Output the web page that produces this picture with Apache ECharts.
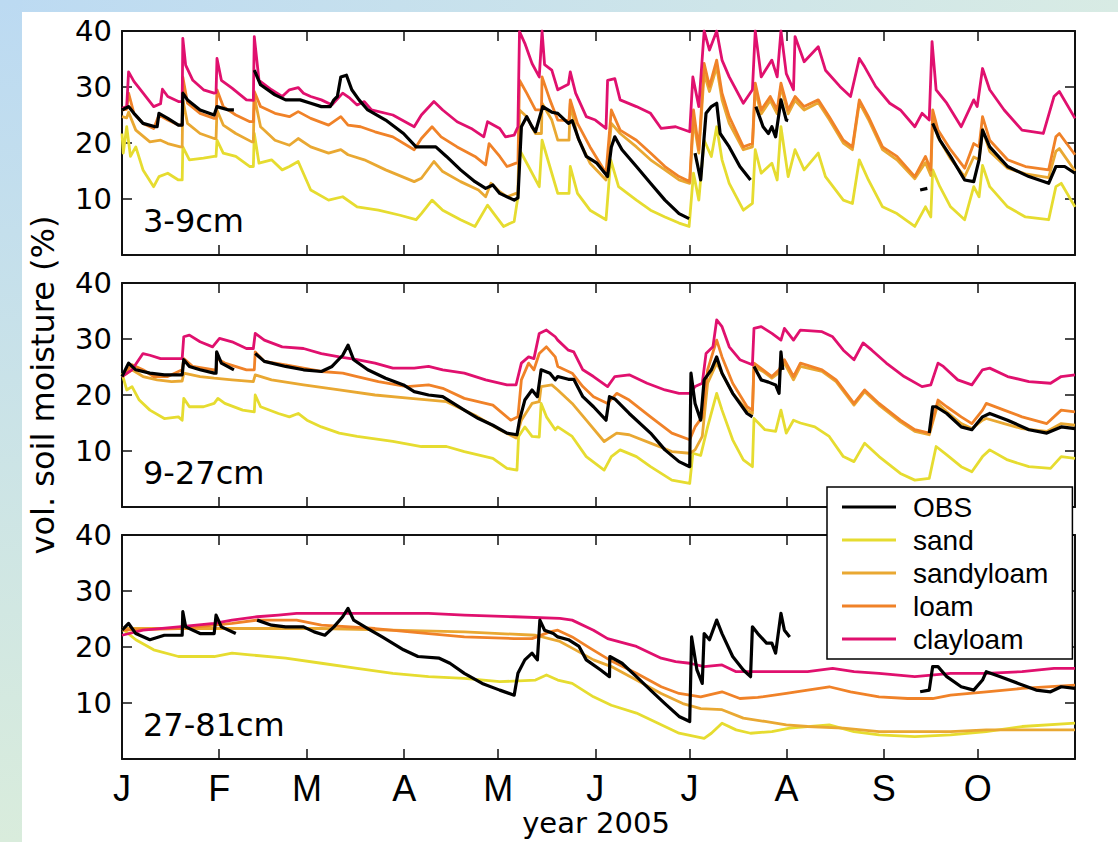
<!DOCTYPE html>
<html>
<head>
<meta charset="utf-8">
<script src="https://cdn.jsdelivr.net/npm/echarts/dist/echarts.min.js"></script>
<style>
html,body{margin:0;padding:0;background:#fff;}
#chart{width:1118px;height:842px;}
</style>
</head>
<body>
<div id="chart"></div>
<script>
// ---------- axis / label data ----------
const monthStarts = [0, 31, 59, 90, 120, 151, 181, 212, 243, 273];
const monthLabels = ['J', 'F', 'M', 'A', 'M', 'J', 'J', 'A', 'S', 'O'];
const dayMax = 304;
const yMax = 40;
const yStep = 10;
const depthLabels = ['3-9cm', '9-27cm', '27-81cm'];
const seriesNames = ['OBS', 'sand', 'sandyloam', 'loam', 'clayloam'];
const xTitle = 'year 2005';
const yTitle = 'vol. soil moisture (%)';

// ---------- panel 1: 3-9cm  ([day of year, vol %]) ----------
const obs1 = [[0,25.9],[2.1,26.5],[3.8,25.3],[6.7,23.5],[10.6,22.9],[11.2,22.9],[11.8,25.3],[14.6,24.4],[18,23.2],[19.2,23.2],[19.4,28.9],[20.9,27.7],[24.9,25.9],[29.4,25],[30.3,26.5],[34,25.9],[35.7,25.9],[35.8,null],[42.1,null],[42.2,33],[44.2,30.4],[48.8,28.6],[52.2,27.7],[56.8,27.7],[60.2,27.1],[63.6,26.5],[66.4,26.5],[67.6,27.7],[68.7,28.3],[69.8,31.8],[71.6,32.1],[73.3,29.5],[75.6,27.7],[78.4,25.9],[84.1,24.1],[89.8,21.7],[93.8,19.3],[97.8,19.3],[100.1,19.3],[103.5,17.6],[108,15.2],[112.6,13.1],[116,11.9],[118.3,12.5],[120.5,11],[125.1,9.8],[126.3,10.2],[127.4,22.9],[129.1,24.7],[130.8,22.9],[131.9,22],[134.2,26.5],[137.1,25.5],[139,25.3],[142.4,23.5],[143.6,24],[145.8,20.5],[148.1,17.6],[151.5,16.4],[154.9,14],[156.1,19.3],[157.2,21.1],[159.5,18.8],[164.1,15.8],[168.6,12.8],[173.2,9.8],[177.7,7.4],[180.9,6.5],[181,null],[182.7,null],[182.8,18.2],[184.6,13.4],[186.3,25.3],[188,26.5],[189.7,27.1],[190.8,21.7],[193.7,19.3],[197.1,15.8],[200.5,13.4],[200.6,null],[202.1,null],[202.2,26.5],[204.5,22.9],[206.2,21.7],[207.3,22.9],[208.5,21.1],[210.2,27.7],[211.9,24.1],[212.5,24],[212.6,null],[254.5,null],[254.6,11.6],[256.9,11.9],[257,null],[258.5,null],[258.6,23.5],[260.9,20.5],[264.3,17.6],[268.8,13.4],[271.7,13.1],[273.4,17],[274.5,22.3],[276.8,19.3],[282.5,15.8],[289.3,14],[295.6,12.8],[297.9,15.8],[300.7,15.8],[304,14.6]];
const sand1 = [[0,21.7],[0.4,18.2],[1.5,22.9],[2.7,17.6],[4.4,19.3],[6.7,15.2],[10.1,12.2],[11.8,14],[14.6,14.6],[18,13.4],[19.2,13.4],[19.4,19.3],[21.5,17],[26,17.3],[29.4,17.6],[30,17.6],[30.3,20.5],[32.3,18.2],[36.3,17.6],[40.8,15.8],[41.9,15.8],[42.2,21.7],[43.7,16.4],[47.7,17],[51.1,15.2],[53.4,15.8],[56.2,16.7],[60.2,11.6],[65.9,9.8],[70.4,10.4],[75,8.6],[81.8,8],[88.7,7.1],[93.8,6.3],[95.5,7.4],[98.9,9.8],[102.3,8],[108,6.3],[112.6,5.1],[116.6,8.9],[119.4,6.8],[121.7,5.1],[125.1,6],[126.3,10.4],[126.8,18.8],[129.7,15.8],[133.1,12.2],[134,20.5],[137.1,14.6],[139,11],[142.6,11],[143,15.8],[145.3,11],[149.3,8],[154.4,6.3],[155.9,17],[158.4,12.2],[164.1,9.8],[168.6,8],[173.2,6.8],[177.7,5.7],[180.9,5.1],[182.3,14.6],[184,9.8],[185.7,20.5],[188,17.6],[189.7,22.9],[191.4,17],[193.7,12.8],[198.2,8],[201.1,9.2],[202,18.8],[203.9,14.6],[207.3,16.4],[209,13.4],[210.2,22.9],[212.5,14],[214.7,18.8],[217.6,15.2],[222.1,18.2],[224.4,14],[230.1,9.8],[233,9.2],[235.2,17],[238.1,13.4],[242.6,8.6],[247.2,7.4],[252.9,5.1],[256.3,8.6],[258,6.8],[258.6,15.2],[260.9,12.2],[264.3,8.6],[268.8,6.3],[271.7,12.2],[273.4,10.4],[274.5,16],[276.8,12.2],[282.5,8.6],[288.2,6.8],[295.6,6.3],[297.9,12.2],[299.6,12.8],[304,8.6]];
const sandy1 = [[0,24.7],[1.5,24.5],[2.1,25.5],[4.4,22.3],[8.9,20.2],[12.3,20.5],[14.6,19.9],[18.6,19.3],[19.2,19.3],[19.4,27.7],[20.9,23.5],[24.9,21.7],[29.4,20.8],[30,20.8],[30.3,25.9],[32.3,23.2],[36.3,21.7],[41.4,20.2],[41.9,20.2],[42.2,28.3],[44.2,22.9],[48.8,20.5],[53.4,19.6],[56.2,20.8],[60.2,19.3],[65.9,18.2],[69.8,18.8],[72.1,17.9],[77.3,17],[84.1,15.2],[93.2,13.1],[95.5,13.7],[99.5,16.7],[102.3,14.9],[108,13.1],[113.7,11.6],[116,10.4],[117.7,12.8],[120.5,11.3],[122.8,10.4],[125.7,11],[126.3,11],[126.8,25.9],[129.1,24.7],[131.9,21.7],[133.8,21.7],[134,27.1],[137.1,24.1],[139,20.5],[142.6,20.5],[143,27.1],[145.3,21.1],[149.3,16.4],[154.4,13.4],[156.1,23.5],[158.9,21.7],[164.1,19.3],[168.6,17],[173.2,15.2],[177.7,13.4],[181.1,12.8],[182.3,24.1],[184,18.2],[185.7,32.4],[187.4,29.2],[189.7,33.6],[191.4,27.7],[193.7,23.5],[198.2,18.8],[201.1,19.3],[202,29.5],[203.9,25.2],[206.8,27.6],[209,25.2],[210.2,30],[212.5,25.2],[214.7,27.6],[217.6,25.9],[222.1,27.2],[225.6,24.2],[230.1,20],[233,18.8],[235.2,27.2],[238.1,24.2],[242.6,18.8],[247.2,17],[252.9,13.6],[256.3,16.5],[258,14.2],[258.6,24.5],[260.3,21],[264.3,17.2],[268.8,14],[271.7,17.5],[273.4,17],[274.5,22.5],[276.8,18.5],[282.5,15.5],[288.2,14.5],[295.6,13.8],[297.9,18.5],[299,19],[304,15]];
const loam1 = [[0,25.9],[1.5,26],[2.1,28.9],[3.8,25.3],[6.7,23.5],[10.1,22.6],[11.8,25],[14.6,24.1],[18,23.2],[19.2,23.2],[19.4,31.8],[20.9,27.1],[24.9,25.3],[29.4,24.4],[30,24.4],[30.3,29.5],[32.3,26.5],[36.3,25],[40.8,23.8],[41.9,23.8],[42.2,29.2],[44.2,26.5],[48.8,25.3],[53.4,24.7],[56.2,25.6],[60.2,24.4],[65.9,23.2],[69.8,24.7],[72.1,23.2],[76.1,22.9],[80.7,22],[86.4,21.1],[93.2,18.8],[95.5,20.8],[98.9,22.9],[101.8,21.1],[106.9,19.3],[112.6,17.6],[116,16.1],[117.1,19.9],[120.5,17.6],[122.8,15.8],[125.7,16.4],[126.3,16.4],[126.8,31.2],[129.1,28.9],[131.9,25.9],[133.8,25.9],[134,31.8],[136.5,27.7],[139,24.1],[142.6,24],[143,27.7],[145.3,23.5],[149.3,19.3],[154.4,14.6],[156.1,25.9],[158.9,22.3],[164.1,20.5],[168.6,18.2],[173.2,15.8],[177.7,14],[181.1,13.1],[182.3,25.9],[184,18.8],[185.7,34.2],[187.4,30.1],[189.7,34.8],[191.4,28.9],[193.7,24.7],[198.2,19.3],[201.1,19.9],[202,30.7],[203.9,25.9],[206.8,28.3],[209,25.9],[210.2,30.7],[212.5,25.9],[214.7,28.3],[217.6,26.5],[222.1,27.7],[225.6,24.7],[230.1,20.5],[233,19.3],[235.2,27.7],[238.1,24.7],[242.6,19.3],[247.2,17.6],[252.9,14],[256.3,17.6],[258,15.2],[258.6,25.9],[260.3,22.3],[264.3,18.8],[268.8,15.5],[271.7,19.9],[273.4,19.3],[274.5,24.7],[276.8,20.5],[282.5,17],[288.2,15.8],[295.6,15.2],[297.9,21.1],[299,21.7],[304,17.9]];
const clay1 = [[0,26.2],[1.5,26.5],[2.1,32.7],[3.8,31],[5.5,29.8],[10.1,26.5],[12.3,27],[12.9,29.6],[14.6,28.3],[18,27.4],[19.2,27.4],[19.4,38.7],[20.3,33.9],[22.6,31.2],[26,29.5],[29.4,28.9],[30,29],[30.3,35.1],[31.7,31.2],[35.1,29.8],[39.7,27.7],[41.9,27.6],[42.2,39],[43.7,31.2],[47.7,29.5],[51.1,28.3],[53.4,29.5],[56.2,29.9],[57.9,28.9],[60.2,28.3],[63.6,27.7],[67,26.8],[70.4,28.9],[72.7,28],[75,26.8],[77.3,27.4],[79.6,25.9],[86.4,25],[93.2,22.9],[95.5,25],[99.5,27.4],[102.3,25.9],[106.9,23.8],[111.4,22.6],[115.4,21.1],[116.6,23.8],[120.5,22.6],[122.3,21.1],[125.1,21.4],[126.3,22.9],[126.8,39.9],[128.5,37.8],[130.8,34.2],[133.1,31.8],[134,40],[134.8,34],[137.1,33],[139,29.5],[142.4,30.5],[143,32.7],[144.7,28.9],[148.1,24.7],[151,24.1],[154.4,22.6],[154.9,31.2],[157.2,31.5],[158.9,27.7],[164.1,26.5],[168.6,25.3],[172,22.6],[176.6,22.9],[181.1,22],[182.1,31.8],[184,26.5],[185.7,40],[187.4,36.6],[189.7,40],[191.4,34.8],[193.7,31.8],[198.2,27.1],[201.1,29.5],[202,40],[203.9,31.8],[207.3,34.8],[209,31.8],[210.2,40],[211.9,32.4],[214.2,29.5],[214.7,39],[217.6,34.5],[222.1,37.2],[224.4,33],[229,30.1],[232.4,28.3],[235.2,35.1],[236.9,33.6],[240.4,30.1],[244.9,27.1],[248.3,25.9],[252.9,22.9],[255.2,25.3],[257.5,24.1],[258.4,38.1],[259.7,29.5],[263.1,27.1],[267.7,22.9],[271.7,27.7],[272.8,26.5],[274.5,33.3],[276.8,29.5],[281.4,25.9],[287.1,22.3],[293.9,21.7],[297.3,28.3],[299,29.2],[304,24.4]];

// ---------- panel 2: 9-27cm ----------
const obs2 = [[0,23.3],[2.1,25.7],[4.4,24.5],[8.9,23.9],[13.5,23.6],[19.2,23.6],[19.7,26.3],[21.5,25.1],[24.9,24.5],[29.4,23.9],[30,23.9],[30.2,27.7],[31.7,25.7],[35.7,24.5],[35.8,null],[42.4,null],[42.5,27.4],[45.4,26],[52.2,25.1],[57.9,24.5],[63.6,24.2],[67,25.1],[70.4,27.1],[72.1,28.9],[73.9,26.3],[78.4,24.5],[84.1,23],[89.8,21.8],[93.2,20.6],[97.8,20],[102.3,19.7],[109.2,17.3],[113.7,15.8],[118.3,14.6],[122.8,13.2],[126,12.9],[126.8,15.5],[128.5,19.1],[130.8,20.9],[132.5,19.7],[133.7,24.5],[136.5,23.9],[138.2,22.7],[139,23.3],[142.4,22.8],[144.1,22.8],[147,19.7],[150.4,17.9],[154.4,15.5],[155.5,19.7],[157.2,19.3],[161.8,16.7],[168.6,13.2],[173.2,10.2],[177.7,8.1],[181.1,7.2],[181.5,23.9],[182.8,18.5],[184.6,15.5],[185.7,22.7],[188,24.5],[189.7,26.8],[191.4,23.9],[194.8,20.3],[199.4,16.7],[201.1,16.1],[201.2,null],[201.5,null],[201.6,25.1],[203.9,22.7],[206.2,22.3],[208.5,21.8],[209.6,20.3],[210.2,27.7],[210.8,24.5],[210.9,null],[257.4,null],[257.5,13.2],[258.6,17.9],[259.7,17.9],[263.1,16.7],[267.7,14.3],[271.1,13.8],[274.5,16.1],[276.8,16.7],[282.5,15.5],[289.3,13.8],[295,13.2],[299.6,14.3],[304,14]];
const sand2 = [[0,23.9],[1.5,20.9],[3.2,21.5],[5.5,19.1],[8.9,17.3],[13.5,15.8],[18,16.1],[19.2,15.5],[19.7,19.4],[21.5,17.9],[26,17.9],[29.4,18.5],[30.6,19.4],[32.8,18.5],[38.5,17.3],[42.2,17],[42.5,20],[44.2,17.9],[49.9,16.7],[53.4,16.1],[56.2,16.7],[59,15.5],[63.6,14.3],[69.3,13.2],[75,12.6],[86.4,11.7],[95.5,10.8],[103.5,10.8],[109.2,9.9],[118.3,8.7],[122.8,6.9],[126,6.6],[126.5,12.6],[128.5,14.3],[130.8,12.6],[133.1,12.5],[133.7,18.5],[135.4,16.1],[138.2,13.8],[139,14.3],[143.6,12.6],[148.1,9],[153.8,6.6],[156.1,9],[158.9,10.2],[164.1,9],[168.6,7.2],[175.4,4.8],[181.1,4.2],[182.1,9.6],[184.6,9.2],[186.8,14.3],[189.7,20.3],[191.4,17.3],[194.8,12],[198.2,8.4],[201.1,7.2],[201.6,15.8],[205.1,13.8],[208.5,13.5],[210.2,17.3],[211.9,13.2],[214.2,15.5],[216.4,15],[221,14.3],[225.6,12.6],[230.1,9],[233.5,8.1],[236.9,11.4],[241.5,9],[248.3,6],[252.9,4.8],[257.5,5.1],[259.7,10.8],[263.1,9.3],[267.7,7.2],[271.1,6.3],[274.5,9],[276.8,10.2],[282.5,8.4],[289.3,7.2],[296.2,6.9],[299.6,9],[304,8.7]];
const sandy2 = [[0,23.3],[3.2,24.5],[6.7,23.3],[11.2,22.7],[15.8,22.4],[19.2,22.5],[19.7,23.9],[24.9,23.3],[29.4,23],[35.1,22.7],[41.9,22.4],[42.5,23.6],[47.7,22.7],[57.9,21.8],[69.3,20.9],[80.7,20],[92.1,19.4],[103.5,18.8],[112.6,16.4],[120.5,13.8],[125.7,12.3],[127.4,15.5],[130.8,18.5],[133.1,18.8],[133.7,21.5],[137.1,21.8],[139,20.9],[143.6,18.5],[148.1,15.5],[153.8,11.7],[157.8,13.2],[161.8,12.9],[168.6,11.4],[175.4,9.9],[181.1,9.6],[182.8,10.2],[185.1,12.6],[186.8,22.1],[189.7,25.7],[191.4,23.9],[194.8,20.3],[199.4,17.3],[201.1,16.7],[201.6,25.1],[204.5,24.2],[207.3,23],[209.6,24],[211.3,25.7],[214.2,22.7],[216.4,25.1],[223.3,24.2],[227.8,22.4],[233.5,18.2],[236.9,20.6],[241.5,18.2],[248.3,15.2],[252.9,13.5],[257.5,12.9],[260.3,18.5],[263.1,17],[267.7,14.9],[271.1,14],[274.5,15.5],[275.7,15.8],[281.4,14.9],[287.1,14],[295,13.5],[299.6,14.9],[304,14.6]];
const loam2 = [[0,23.3],[3.2,25.4],[6.7,24.5],[10.1,23.3],[14.6,23.3],[19.2,24.5],[19.7,26.5],[22.6,25.1],[29.4,24.5],[30,24.5],[30.3,26.5],[32.8,25.7],[39.7,24.5],[42.2,24.5],[42.5,27.7],[45.4,26],[52.2,25.4],[57.9,24.8],[63.6,24.2],[70.4,23.9],[75,23.3],[81.8,22.4],[90.9,21.5],[97.8,21.8],[102.3,21.2],[109.2,19.4],[118.3,18.2],[124,15.5],[126.3,16.1],[127.4,22.7],[129.7,25.7],[131.4,24.5],[133.1,27.4],[135.4,28.6],[138.2,26.8],[139,25.1],[143.6,23.9],[147,21.5],[150.4,19.7],[154.9,18.5],[157.8,20.3],[161.8,19.1],[168.6,16.1],[175.4,13.2],[181.1,12],[182.8,14.3],[185.1,16.1],[186.8,24.5],[189.7,29.8],[191.4,26.8],[194.8,22.1],[199.4,17.9],[201.1,17.3],[201.6,25.7],[204.5,24.5],[207.3,23.3],[209.6,24.5],[211.3,26.3],[214.2,23.3],[216.4,25.7],[223.3,24.5],[227.8,22.7],[233.5,18.5],[236.9,20.9],[241.5,18.5],[248.3,15.5],[252.9,13.8],[257.5,13.2],[260.3,19.1],[263.1,17.9],[267.7,16.1],[271.1,14.9],[274.5,17.3],[275.7,18.5],[281.4,17.3],[287.1,16.1],[295,14.9],[299.6,17.3],[304,17]];
const clay2 = [[0,23.3],[3.2,24.5],[6.7,27.4],[8.9,27.1],[12.3,26.5],[19.2,26.5],[19.7,30.4],[21.5,30.7],[24.9,29.5],[28.9,28.6],[31.1,30.1],[35.1,29.5],[39.7,28.3],[41.9,28.3],[42.5,31],[45.4,29.8],[51.1,28.6],[57.9,28.3],[63.6,27.4],[69.3,26.8],[75,26.3],[80.7,25.7],[86.4,24.8],[93.2,24.8],[97.8,25.1],[102.3,24.5],[109.2,23.9],[116,22.7],[122.8,21.8],[125.7,21.8],[127.4,25.7],[129.7,26.8],[131.4,26.5],[133.1,31],[135.4,31.6],[138.2,30.4],[139,29.8],[142.4,28],[144.1,27.7],[147,24.5],[150.4,23.3],[154.9,21.5],[157.2,23.3],[161.8,23.6],[167.5,22.1],[173.2,20.9],[177.7,20.3],[181.1,20.3],[182.8,21.5],[185.1,22.1],[186.3,27.4],[188.5,28.6],[189.7,33.4],[191.4,32.2],[193.7,28.6],[197.1,26.3],[201.1,25.4],[201.6,31.9],[203.9,32.2],[207.3,31],[210.2,29.8],[211.3,31.9],[214.2,29.8],[216.4,31.6],[223.3,31.3],[226.7,30.4],[230.1,28],[233.5,26.3],[236.4,29.3],[239.2,28],[243.8,25.7],[249.5,23.3],[255.2,21.5],[258,21.8],[260.3,25.7],[262,25.1],[266.6,22.7],[271.1,21.8],[274.5,24.5],[276.8,24.8],[282.5,23.3],[289.3,22.4],[296.2,22.1],[299.6,23.3],[304,23.6]];

// ---------- panel 3: 27-81cm ----------
const obs3 = [[0,23],[2.1,24.2],[4.4,22.4],[8.9,21.3],[13.5,22.1],[18,22.1],[19.2,22.1],[19.4,26.3],[20.3,23.6],[24.9,22.4],[29.4,22.4],[30,25.7],[31.7,23.6],[36.3,22.4],[36.4,null],[42.9,null],[43.1,24.8],[47.7,23.9],[52.2,23.6],[57.9,23.6],[61.3,22.7],[64.7,22.1],[67.6,23.6],[70.4,25.4],[72.1,26.9],[73.9,24.8],[78.4,23.3],[83,21.8],[89.8,19.5],[94.4,18.3],[101.2,18],[104.6,17.1],[109.2,15.3],[114.9,13.5],[120.5,12.3],[125.1,11.4],[126.3,15.3],[128.5,17.7],[130.8,18.9],[132.5,17.7],[133.3,24.8],[134.8,23],[137.6,22.4],[139,21.8],[142.4,21.3],[145.8,20.1],[148.1,17.7],[152.7,15.9],[155.5,14.7],[155.6,18.3],[159.5,17.1],[164.1,14.7],[168.6,12.3],[173.2,9.9],[177.7,7.6],[181.1,6.7],[181.7,21.8],[183.4,15.9],[185.1,13.5],[185.7,22.4],[187.4,21.3],[189.7,24.8],[191.4,22.4],[194.8,18.3],[198.2,15.9],[200.5,14.7],[201.1,23.6],[202.8,22.4],[205.6,20.7],[207.3,20.7],[208.5,18.9],[210.2,26],[211.3,23],[213,21.8],[213.1,null],[254.5,null],[254.6,12],[257.5,12.3],[258.6,16.5],[260.3,16.5],[263.1,14.7],[267.7,12.9],[271.7,12.3],[274.5,14.1],[275.7,15.6],[280.2,14.7],[285.9,13.5],[291.6,12.3],[296.2,12],[299.6,12.9],[304,12.6]];
const sand3 = [[0,23.3],[4.4,21.3],[10.1,19.5],[18,18.3],[29.4,18.3],[35.1,18.9],[40.8,18.6],[52.2,18],[63.6,17.1],[75,16.2],[86.4,15.3],[97.8,14.7],[109.2,14.4],[120.5,13.8],[131.9,14.1],[135.4,15],[139,14.1],[143.6,13.5],[150.4,11.1],[156.1,9.6],[164.1,8.2],[172,6.1],[177.7,4.6],[185.7,3.7],[188,4.6],[191.4,6.4],[195.9,5.2],[200.5,4.6],[207.3,4.9],[213,5.5],[218.7,5.8],[225.6,6.1],[233.5,4.9],[241.5,4.3],[252.9,4],[264.3,4.3],[275.7,4.9],[287.1,5.8],[304,6.4]];
const sandy3 = [[0,23.3],[18,23.3],[40,23.3],[63.6,23.3],[86.4,23],[109.2,22.7],[131.9,22.1],[139.7,21],[143.6,19.8],[150.4,17.7],[156.1,16.5],[164.1,14.1],[172,11.7],[178.9,9.9],[184.6,9],[191.4,8.8],[198.2,7.3],[205.1,6.7],[211.9,6.1],[218.7,5.8],[230.1,5.5],[241.5,4.9],[252.9,4.9],[264.3,4.9],[275.7,5.2],[304,5.2]];
const loam3 = [[0,23],[18,23.3],[35.1,24.2],[43.1,24.8],[55.7,24.8],[63.6,23.9],[80.7,23.3],[97.8,22.4],[109.2,21.8],[125.1,21.5],[130.8,21.5],[136.5,22.7],[139,23],[143.6,21.8],[149.3,19.8],[155.5,17.7],[164.1,15.3],[172,12.9],[177.7,11.7],[184.6,11.1],[191.4,12],[197.1,10.8],[202.8,11],[211.9,11.7],[218.7,12.3],[225.6,12.9],[232.4,12],[241.5,11.1],[250.6,10.8],[258.6,10.8],[264.3,11.4],[275.7,12],[287.1,12.6],[304,13.2]];
const clay3 = [[0,22.1],[6.7,23],[18,23.6],[29.4,24.2],[35.1,24.8],[43.1,25.4],[49.9,25.7],[55.7,26],[75,26],[97.8,26],[109.2,25.7],[125.1,25.4],[139.7,25.1],[143.6,24.8],[150.4,23],[154.9,21.5],[164.1,20.1],[172,18],[176.6,17.4],[181.1,17.1],[185.7,16.5],[191.4,16.8],[195.9,15.6],[213,15.6],[218.7,15.6],[226.7,16.2],[233.5,15.6],[241.5,15.3],[252.9,14.7],[264.3,15.3],[275.7,15.3],[287.1,15.6],[297.3,16.2],[304,16.2]];

// ---------- build chart ----------
const panelData = [
  { OBS: obs1, sand: sand1, sandyloam: sandy1, loam: loam1, clayloam: clay1 },
  { OBS: obs2, sand: sand2, sandyloam: sandy2, loam: loam2, clayloam: clay2 },
  { OBS: obs3, sand: sand3, sandyloam: sandy3, loam: loam3, clayloam: clay3 }
];
const colors = { OBS: '#000000', sand: '#e6dc30', sandyloam: '#e9a832', loam: '#f08228', clayloam: '#e0106e' };
const widths = { OBS: 3.2, sand: 2.8, sandyloam: 2.8, loam: 2.8, clayloam: 2.8 };
const drawOrder = ['sand', 'sandyloam', 'loam', 'clayloam', 'OBS'];

const gridTops = [31, 283, 535];
const gridLeft = 122, gridWidth = 953, gridHeight = 224;
const AX = '#111';

const grids = [], xAxes = [], yAxes = [], series = [];
gridTops.forEach((top, i) => {
  grids.push({ left: gridLeft, top: top, width: gridWidth, height: gridHeight, containLabel: false });
  const xBase = {
    type: 'value', gridIndex: i, min: 0, max: dayMax,
    splitLine: { show: false },
    axisLine: { show: true, onZero: false, lineStyle: { color: AX, width: 2 } },
    axisTick: { show: true, inside: true, length: 10, customValues: monthStarts, lineStyle: { color: AX, width: 1.5 } }
  };
  xAxes.push(Object.assign({}, xBase, {
    position: 'bottom',
    axisLabel: i === 2 ? {
      show: true, customValues: monthStarts, margin: 14,
      fontSize: 36, lineHeight: 30, fontFamily: 'Liberation Sans', color: '#000',
      formatter: v => monthLabels[monthStarts.indexOf(Math.round(v))] || ''
    } : { show: false }
  }));
  xAxes.push(Object.assign({}, xBase, { position: 'top', axisLabel: { show: false } }));
  const yBase = {
    type: 'value', gridIndex: i, min: 0, max: yMax, interval: yStep,
    splitLine: { show: false },
    axisLine: { show: true, onZero: false, lineStyle: { color: AX, width: 2 } },
    axisTick: { show: true, inside: true, length: 10, lineStyle: { color: AX, width: 1.5 } }
  };
  yAxes.push(Object.assign({}, yBase, {
    position: 'left',
    axisLabel: { show: true, margin: 10, fontSize: 29, fontFamily: 'DejaVu Sans', color: '#000',
      formatter: v => (v === 0 ? '' : String(v)) }
  }));
  yAxes.push(Object.assign({}, yBase, { position: 'right', axisLabel: { show: false } }));

  drawOrder.forEach(name => {
    series.push({
      name: name, type: 'line',
      xAxisIndex: i * 2, yAxisIndex: i * 2,
      data: panelData[i][name],
      showSymbol: false, symbol: 'none',
      connectNulls: false,
      lineStyle: { color: colors[name], width: widths[name], join: 'round' },
      itemStyle: { color: colors[name] },
      z: name === 'OBS' ? 3 : 2,
      animation: false
    });
  });
});

const graphics = [
  { type: 'rect', left: 0, top: 0, z: -10, silent: true,
    shape: { width: 1118, height: 12 },
    style: { fill: new echarts.graphic.LinearGradient(0, 0, 1, 0, [
      { offset: 0, color: '#bcdaf2' }, { offset: 1, color: '#d8ebe4' }]) } },
  { type: 'rect', left: 0, top: 0, z: -10, silent: true,
    shape: { width: 22, height: 842 },
    style: { fill: new echarts.graphic.LinearGradient(0, 0, 0, 1, [
      { offset: 0, color: '#bcdaf2' }, { offset: 1, color: '#d9ecdc' }]) } }
];
depthLabels.forEach((t, i) => {
  graphics.push({ type: 'text', z: 10, silent: true, x: 143, y: gridTops[i] + 190,
    style: { text: t, fontSize: 32, fontFamily: 'DejaVu Sans', fill: '#000',
      textAlign: 'left', textVerticalAlign: 'middle' } });
});
graphics.push({ type: 'text', z: 10, silent: true, x: 43, y: 385, rotation: Math.PI / 2,
  style: { text: yTitle, fontSize: 32, fontFamily: 'DejaVu Sans', fill: '#000',
    textAlign: 'center', textVerticalAlign: 'middle' } });
graphics.push({ type: 'text', z: 10, silent: true, x: 596, y: 823,
  style: { text: xTitle, fontSize: 29, lineHeight: 29, fontFamily: 'DejaVu Sans', fill: '#000',
    textAlign: 'center', textVerticalAlign: 'middle' } });

const chart = echarts.init(document.getElementById('chart'), null, { renderer: 'svg' });
chart.setOption({
  animation: false,
  backgroundColor: '#ffffff',
  grid: grids,
  xAxis: xAxes,
  yAxis: yAxes,
  series: series,
  graphic: graphics,
  legend: {
    data: seriesNames,
    orient: 'vertical',
    left: 827, top: 487,
    padding: [6, 24, 6, 15],
    itemGap: 5,
    itemWidth: 54, itemHeight: 3,
    icon: 'rect',
    backgroundColor: '#ffffff',
    borderColor: '#000', borderWidth: 1.5,
    selectedMode: false,
    textStyle: { fontSize: 28, lineHeight: 28, fontFamily: 'Liberation Sans', color: '#000', padding: [0, 0, 0, 12] },
    z: 20
  }
});
</script>
</body>
</html>
